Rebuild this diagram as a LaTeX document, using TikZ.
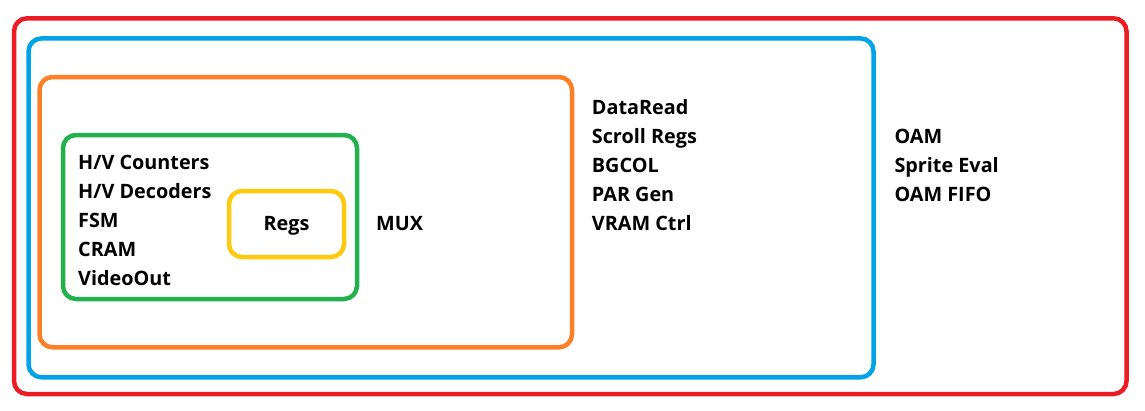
\documentclass[tikz,border=0pt]{standalone}
\usepackage{fontspec}
\setmainfont{Open Sans}
\definecolor{pred}{HTML}{ED1C24}
\definecolor{pblue}{HTML}{00A2E8}
\definecolor{porange}{HTML}{FF7F27}
\definecolor{pgreen}{HTML}{22B14C}
\definecolor{pyellow}{HTML}{FFC90E}
\begin{document}
\begin{tikzpicture}[x=1pt,y=-1pt,
  box/.style={draw=#1, line width=4.5pt, rounded corners=13pt, inner sep=0pt, rectangle},
  lbl/.style={anchor=base west, inner sep=0pt, font=\fontsize{19.8}{22}\selectfont\bfseries, text=black}]
\useasboundingbox (0,0) rectangle (1145,410);
\node[box=pred, minimum width=1112.5pt, minimum height=375.7pt] (outer) at (570.25,206.15) {};
\node[box=pblue, minimum width=845pt, minimum height=338.9pt] (bluebox) at (451,207.85) {};
\node[box=porange, minimum width=532.5pt, minimum height=270.3pt] (orangebox) at (305.75,212.15) {};
\node[box=pgreen, minimum width=294pt, minimum height=164pt] (greenbox) at (210,217) {};
\node[box=pyellow, minimum width=115pt, minimum height=66pt] (yellowbox) at (286.5,224) {};
% green contents
\node[lbl] (hvc) at (78,169.3) {H/V Counters};
\node[lbl] (hvd) at (78,198.3) {H/V Decoders};
\node[lbl] (fsm) at (78,227.5) {FSM};
\node[lbl] (cram) at (78,256.5) {CRAM};
\node[lbl] (vout) at (78,285.5) {VideoOut};
\node[lbl, anchor=base] (regs) at (286.5,230) {Regs};
% orange contents
\node[lbl] (mux) at (376,230) {MUX};
% blue contents
\node[lbl] (dread) at (591.7,114.5) {DataRead};
\node[lbl] (sregs) at (591.7,143) {Scroll Regs};
\node[lbl] (bgcol) at (591.7,172) {BGCOL};
\node[lbl] (pargen) at (591.7,201) {PAR Gen};
\node[lbl] (vram) at (591.7,230) {VRAM Ctrl};
% red contents
\node[lbl] (oam) at (894.3,143) {OAM};
\node[lbl] (seval) at (894.3,172) {Sprite Eval};
\node[lbl] (ofifo) at (894.3,201) {OAM FIFO};
\end{tikzpicture}
\end{document}
